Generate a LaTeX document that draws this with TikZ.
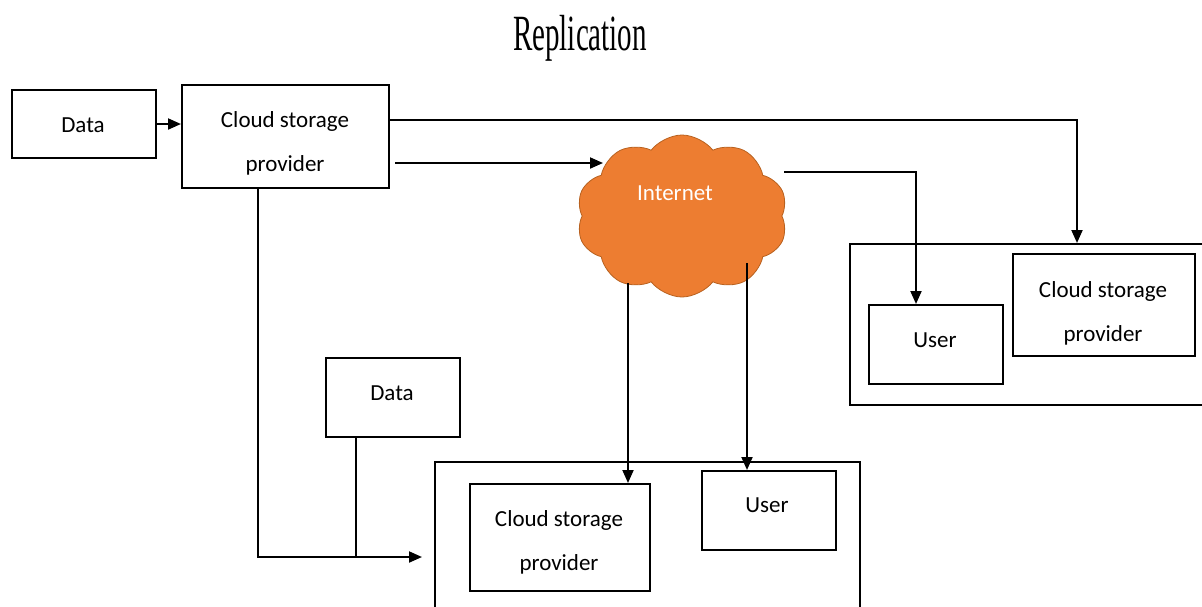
\documentclass[tikz,border=0pt]{standalone}
\usepackage{fontspec}
\setmainfont{Liberation Serif}
\newfontfamily\lblfamily{Carlito}
\usetikzlibrary{arrows.meta,shapes.symbols,calc}

\definecolor{cloudfill}{HTML}{ED7D31}
\definecolor{cloudedge}{HTML}{B8611F}

\tikzset{
  box/.style={draw, line width=2pt, rectangle, inner sep=0pt},
  lbl/.style={font=\lblfamily\fontsize{23}{28}\selectfont, inner sep=0pt, anchor=base},
  wire/.style={line width=2pt},
  conn/.style={line width=2pt, -{Triangle[length=13pt,width=11pt]}},
}

\begin{document}
\begin{tikzpicture}[x=1pt,y=-1pt]
  \useasboundingbox (0,0) rectangle (1202,606);
  \clip (0,0) rectangle (1202,606);

  % title
  \node[inner sep=0pt, anchor=base, font=\fontsize{29}{34}\selectfont] (title) at (580,50)
    {\scalebox{1}[1.75]{Replication}};

  % boxes
  \node[box, minimum width=144pt, minimum height=68pt]  (data1) at (84,124) {};
  \node[box, minimum width=207pt, minimum height=103pt] (csp1)  at (285.5,136.5) {};
  \node[box, minimum width=360pt, minimum height=161pt] (rbig)  at (1030,324.5) {};
  \node[box, minimum width=134pt, minimum height=79pt]  (user1) at (936,344.5) {};
  \node[box, minimum width=182pt, minimum height=102pt] (csp2)  at (1104,305) {};
  \node[box, minimum width=134pt, minimum height=79pt]  (data2) at (393,397.5) {};
  \node[box, minimum width=425pt, minimum height=158pt] (bbig)  at (647.5,541) {};
  \node[box, minimum width=180pt, minimum height=107pt] (csp3)  at (560,537.5) {};
  \node[box, minimum width=134pt, minimum height=79pt]  (user2) at (769,510.5) {};

  % the internet cloud
  \node[cloud, cloud puffs=10, cloud puff arc=105, aspect=1.3, draw=cloudedge,
        line width=0.8pt, fill=cloudfill, minimum width=211pt, minimum height=162pt,
        inner sep=0pt, shape border rotate=8] (cloud) at (682,216) {};

  % labels
  \node[lbl] (t-data1) at (83,132) {Data};
  \node[lbl] (t-csp1a) at (285,127) {Cloud storage};
  \node[lbl] (t-csp1b) at (285,171) {provider};
  \node[lbl] (t-csp2a) at (1103,297) {Cloud storage};
  \node[lbl] (t-csp2b) at (1103,341) {provider};
  \node[lbl] (t-csp3a) at (559,526) {Cloud storage};
  \node[lbl] (t-csp3b) at (559,570) {provider};
  \node[lbl] (t-data2) at (392,400) {Data};
  \node[lbl] (t-user1) at (935,347) {User};
  \node[lbl] (t-user2) at (767,512) {User};
  \node[lbl, text=white] (t-net) at (675,200) {Internet};

  % points on the cloud outline
  \coordinate (cl-in)  at (603,163);
  \coordinate (cl-out) at (784,172);
  \coordinate (cl-b1)  at (628,283);
  \coordinate (cl-b2)  at (747,263);
  % corner where the two lower feeds meet
  \coordinate (feed) at (258,557);

  % connectors
  \draw[conn] (data1.east) -- (data1.east -| csp1.west);
  \draw[conn] ([yshift=-36pt]csp1.north east) -| ([xshift=47pt]rbig.north);
  \draw[conn] ([xshift=5pt,yshift=-26.5pt]csp1.east) -- (cl-in);
  \draw[conn] (cl-out) -| ([xshift=-20pt]user1.north);
  \draw[conn] (cl-b1) -- (cl-b1 |- csp3.north);
  \draw[conn] (cl-b2) -- (cl-b2 |- user2.north);
  \draw[conn] ([xshift=-27.5pt]csp1.south) -- (feed) -- ([xshift=-12pt]feed -| bbig.west);
  \draw[wire] ([xshift=-37pt]data2.south) -- ([xshift=-37pt]data2.south |- feed);
\end{tikzpicture}
\end{document}
